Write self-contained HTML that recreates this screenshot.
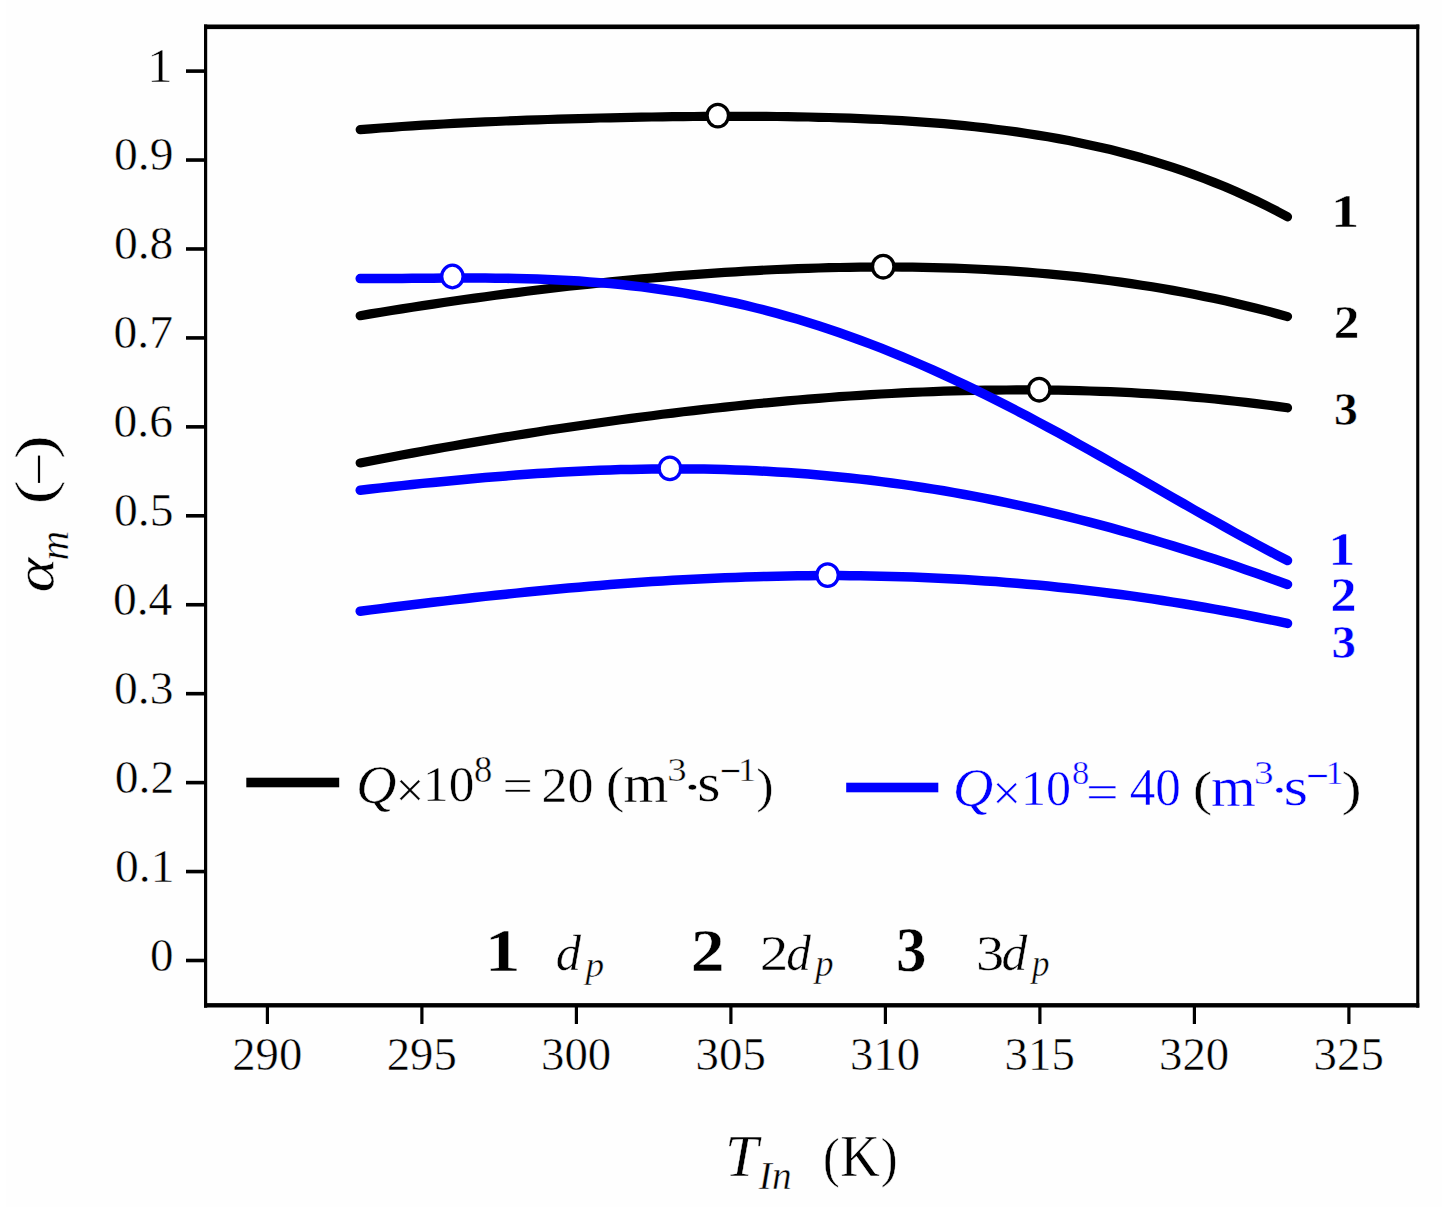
<!DOCTYPE html>
<html><head><meta charset="utf-8"><title>chart</title><style>
html,body{margin:0;padding:0;background:#fefefe;overflow:hidden}
svg{display:block}
text{font-family:"Liberation Serif",serif;stroke:#fefefe;stroke-width:0.45px}
</style></head><body>
<svg width="1442" height="1207" viewBox="0 0 1442 1207">
<rect width="1442" height="1207" fill="#fefefe"/>
<rect width="6" height="1207" fill="#fff"/>
<g fill="#000">
<rect x="204" y="24.5" width="1215.3" height="4.6"/>
<rect x="204" y="1003.1" width="1215.3" height="4.4"/>
<rect x="204" y="24.5" width="3.2" height="983.2"/>
<rect x="1416.2" y="24.5" width="3.1" height="983.2"/>
<rect x="186" y="958.70" width="19" height="3.6"/>
<rect x="186" y="869.76" width="19" height="3.6"/>
<rect x="186" y="780.82" width="19" height="3.6"/>
<rect x="186" y="691.88" width="19" height="3.6"/>
<rect x="186" y="602.94" width="19" height="3.6"/>
<rect x="186" y="514.00" width="19" height="3.6"/>
<rect x="186" y="425.06" width="19" height="3.6"/>
<rect x="186" y="336.12" width="19" height="3.6"/>
<rect x="186" y="247.18" width="19" height="3.6"/>
<rect x="186" y="158.24" width="19" height="3.6"/>
<rect x="186" y="69.30" width="19" height="3.6"/>
<rect x="265.80" y="1005" width="3.2" height="19"/>
<rect x="420.30" y="1005" width="3.2" height="19"/>
<rect x="574.80" y="1005" width="3.2" height="19"/>
<rect x="729.30" y="1005" width="3.2" height="19"/>
<rect x="883.80" y="1005" width="3.2" height="19"/>
<rect x="1038.30" y="1005" width="3.2" height="19"/>
<rect x="1192.80" y="1005" width="3.2" height="19"/>
<rect x="1347.30" y="1005" width="3.2" height="19"/>
</g>
<text transform="translate(147.23 81.70) scale(1.0265 1)" font-size="49.53" fill="#000">1</text>
<text transform="translate(149.89 970.90) scale(1.0000 1)" font-size="47.0" fill="#000">0</text>
<text transform="translate(114.99 881.96) scale(1.0121 1)" font-size="47.0" fill="#000">0.1</text>
<text transform="translate(114.76 793.02) scale(1.0121 1)" font-size="47.0" fill="#000">0.2</text>
<text transform="translate(114.00 704.08) scale(1.0121 1)" font-size="47.0" fill="#000">0.3</text>
<text transform="translate(112.88 615.14) scale(1.0121 1)" font-size="47.0" fill="#000">0.4</text>
<text transform="translate(114.00 526.20) scale(1.0121 1)" font-size="47.0" fill="#000">0.5</text>
<text transform="translate(113.55 437.26) scale(1.0121 1)" font-size="47.0" fill="#000">0.6</text>
<text transform="translate(113.51 348.32) scale(1.0121 1)" font-size="47.0" fill="#000">0.7</text>
<text transform="translate(113.95 259.38) scale(1.0121 1)" font-size="47.0" fill="#000">0.8</text>
<text transform="translate(114.09 170.44) scale(1.0121 1)" font-size="47.0" fill="#000">0.9</text>
<text transform="translate(232.25 1070.3) scale(1.0149 1)" font-size="46.0" fill="#000">290</text>
<text transform="translate(386.75 1070.3) scale(1.0156 1)" font-size="46.0" fill="#000">295</text>
<text transform="translate(541.06 1070.3) scale(1.0177 1)" font-size="46.0" fill="#000">300</text>
<text transform="translate(695.56 1070.3) scale(1.0184 1)" font-size="46.0" fill="#000">305</text>
<text transform="translate(850.06 1070.3) scale(1.0177 1)" font-size="46.0" fill="#000">310</text>
<text transform="translate(1004.56 1070.3) scale(1.0184 1)" font-size="46.0" fill="#000">315</text>
<text transform="translate(1159.06 1070.3) scale(1.0177 1)" font-size="46.0" fill="#000">320</text>
<text transform="translate(1313.56 1070.3) scale(1.0184 1)" font-size="46.0" fill="#000">325</text>
<path d="M360.2 129.7 L370.6 128.8 L381.0 128.0 L391.5 127.3 L401.9 126.5 L412.3 125.9 L422.7 125.2 L433.1 124.6 L443.6 124.0 L454.0 123.4 L464.4 122.9 L474.8 122.4 L485.2 121.9 L495.6 121.5 L506.1 121.0 L516.5 120.6 L526.9 120.2 L537.3 119.9 L547.7 119.5 L558.2 119.2 L568.6 118.9 L579.0 118.6 L589.4 118.3 L599.8 118.0 L610.3 117.8 L620.7 117.6 L631.1 117.4 L641.5 117.2 L651.9 117.0 L662.4 116.8 L672.8 116.7 L683.2 116.6 L693.6 116.5 L704.0 116.4 L714.4 116.4 L724.9 116.3 L735.3 116.3 L745.7 116.3 L756.1 116.4 L766.5 116.4 L777.0 116.5 L787.4 116.7 L797.8 116.8 L808.2 117.0 L818.6 117.3 L829.1 117.5 L839.5 117.8 L849.9 118.2 L860.3 118.6 L870.7 119.1 L881.2 119.5 L891.6 120.1 L902.0 120.7 L912.4 121.4 L922.8 122.1 L933.3 122.9 L943.7 123.7 L954.1 124.7 L964.5 125.7 L974.9 126.8 L985.3 127.9 L995.8 129.2 L1006.2 130.5 L1016.6 131.9 L1027.0 133.5 L1037.4 135.1 L1047.9 136.8 L1058.3 138.6 L1068.7 140.6 L1079.1 142.7 L1089.5 144.9 L1100.0 147.2 L1110.4 149.6 L1120.8 152.2 L1131.2 155.0 L1141.6 157.8 L1152.1 160.9 L1162.5 164.1 L1172.9 167.4 L1183.3 170.9 L1193.7 174.6 L1204.1 178.5 L1214.6 182.6 L1225.0 186.8 L1235.4 191.3 L1245.8 196.0 L1256.2 200.8 L1266.7 205.9 L1277.1 211.2 L1287.5 216.8" fill="none" stroke="#000" stroke-width="9.2" stroke-linecap="round" stroke-linejoin="round"/>
<path d="M360.2 315.7 L370.6 313.9 L381.0 312.2 L391.5 310.5 L401.9 308.9 L412.3 307.2 L422.7 305.6 L433.1 304.1 L443.6 302.5 L454.0 301.0 L464.4 299.5 L474.8 298.1 L485.2 296.7 L495.6 295.3 L506.1 293.9 L516.5 292.6 L526.9 291.3 L537.3 290.0 L547.7 288.7 L558.2 287.5 L568.6 286.3 L579.0 285.2 L589.4 284.1 L599.8 283.0 L610.3 281.9 L620.7 280.9 L631.1 279.9 L641.5 278.9 L651.9 278.0 L662.4 277.1 L672.8 276.2 L683.2 275.4 L693.6 274.6 L704.0 273.8 L714.4 273.1 L724.9 272.4 L735.3 271.8 L745.7 271.1 L756.1 270.6 L766.5 270.0 L777.0 269.5 L787.4 269.1 L797.8 268.7 L808.2 268.3 L818.6 268.0 L829.1 267.7 L839.5 267.5 L849.9 267.3 L860.3 267.2 L870.7 267.1 L881.2 267.0 L891.6 267.0 L902.0 267.1 L912.4 267.2 L922.8 267.3 L933.3 267.6 L943.7 267.8 L954.1 268.2 L964.5 268.5 L974.9 269.0 L985.3 269.5 L995.8 270.1 L1006.2 270.7 L1016.6 271.4 L1027.0 272.1 L1037.4 273.0 L1047.9 273.8 L1058.3 274.8 L1068.7 275.8 L1079.1 276.9 L1089.5 278.1 L1100.0 279.4 L1110.4 280.7 L1120.8 282.1 L1131.2 283.6 L1141.6 285.2 L1152.1 286.8 L1162.5 288.5 L1172.9 290.4 L1183.3 292.3 L1193.7 294.3 L1204.1 296.4 L1214.6 298.6 L1225.0 300.8 L1235.4 303.2 L1245.8 305.7 L1256.2 308.3 L1266.7 310.9 L1277.1 313.7 L1287.5 316.6" fill="none" stroke="#000" stroke-width="9.2" stroke-linecap="round" stroke-linejoin="round"/>
<path d="M360.2 462.9 L370.6 460.9 L381.0 458.9 L391.5 457.0 L401.9 455.0 L412.3 453.1 L422.7 451.2 L433.1 449.4 L443.6 447.5 L454.0 445.7 L464.4 443.9 L474.8 442.1 L485.2 440.4 L495.6 438.6 L506.1 436.9 L516.5 435.3 L526.9 433.6 L537.3 432.0 L547.7 430.3 L558.2 428.8 L568.6 427.2 L579.0 425.7 L589.4 424.2 L599.8 422.7 L610.3 421.2 L620.7 419.8 L631.1 418.4 L641.5 417.0 L651.9 415.7 L662.4 414.3 L672.8 413.1 L683.2 411.8 L693.6 410.6 L704.0 409.4 L714.4 408.2 L724.9 407.1 L735.3 406.0 L745.7 404.9 L756.1 403.8 L766.5 402.8 L777.0 401.8 L787.4 400.9 L797.8 400.0 L808.2 399.1 L818.6 398.3 L829.1 397.5 L839.5 396.7 L849.9 396.0 L860.3 395.3 L870.7 394.7 L881.2 394.0 L891.6 393.5 L902.0 392.9 L912.4 392.4 L922.8 392.0 L933.3 391.6 L943.7 391.2 L954.1 390.9 L964.5 390.6 L974.9 390.4 L985.3 390.2 L995.8 390.1 L1006.2 390.0 L1016.6 389.9 L1027.0 389.9 L1037.4 390.0 L1047.9 390.1 L1058.3 390.2 L1068.7 390.4 L1079.1 390.7 L1089.5 391.0 L1100.0 391.3 L1110.4 391.7 L1120.8 392.2 L1131.2 392.7 L1141.6 393.3 L1152.1 393.9 L1162.5 394.6 L1172.9 395.4 L1183.3 396.2 L1193.7 397.1 L1204.1 398.0 L1214.6 399.0 L1225.0 400.1 L1235.4 401.2 L1245.8 402.4 L1256.2 403.6 L1266.7 405.0 L1277.1 406.4 L1287.5 407.8" fill="none" stroke="#000" stroke-width="9.2" stroke-linecap="round" stroke-linejoin="round"/>
<path d="M360.2 278.6 L370.6 278.6 L381.0 278.5 L391.5 278.5 L401.9 278.4 L412.3 278.3 L422.7 278.2 L433.1 278.2 L443.6 278.1 L454.0 278.0 L464.4 278.0 L474.8 278.0 L485.2 278.1 L495.6 278.2 L506.1 278.3 L516.5 278.5 L526.9 278.8 L537.3 279.1 L547.7 279.5 L558.2 280.0 L568.6 280.5 L579.0 281.1 L589.4 281.9 L599.8 282.7 L610.3 283.6 L620.7 284.6 L631.1 285.7 L641.5 286.9 L651.9 288.2 L662.4 289.7 L672.8 291.2 L683.2 292.9 L693.6 294.7 L704.0 296.6 L714.4 298.6 L724.9 300.8 L735.3 303.0 L745.7 305.4 L756.1 308.0 L766.5 310.6 L777.0 313.4 L787.4 316.3 L797.8 319.3 L808.2 322.5 L818.6 325.8 L829.1 329.2 L839.5 332.8 L849.9 336.4 L860.3 340.2 L870.7 344.1 L881.2 348.2 L891.6 352.3 L902.0 356.6 L912.4 361.0 L922.8 365.5 L933.3 370.1 L943.7 374.8 L954.1 379.7 L964.5 384.6 L974.9 389.6 L985.3 394.7 L995.8 399.9 L1006.2 405.2 L1016.6 410.6 L1027.0 416.0 L1037.4 421.6 L1047.9 427.2 L1058.3 432.8 L1068.7 438.5 L1079.1 444.3 L1089.5 450.1 L1100.0 456.0 L1110.4 461.9 L1120.8 467.8 L1131.2 473.7 L1141.6 479.7 L1152.1 485.7 L1162.5 491.6 L1172.9 497.6 L1183.3 503.5 L1193.7 509.5 L1204.1 515.4 L1214.6 521.2 L1225.0 527.0 L1235.4 532.8 L1245.8 538.5 L1256.2 544.2 L1266.7 549.7 L1277.1 555.2 L1287.5 560.5" fill="none" stroke="#0000ff" stroke-width="9.5" stroke-linecap="round" stroke-linejoin="round"/>
<path d="M360.2 490.2 L370.6 489.0 L381.0 487.9 L391.5 486.7 L401.9 485.6 L412.3 484.5 L422.7 483.4 L433.1 482.4 L443.6 481.4 L454.0 480.4 L464.4 479.4 L474.8 478.5 L485.2 477.6 L495.6 476.7 L506.1 475.9 L516.5 475.1 L526.9 474.3 L537.3 473.6 L547.7 473.0 L558.2 472.3 L568.6 471.8 L579.0 471.2 L589.4 470.8 L599.8 470.3 L610.3 470.0 L620.7 469.6 L631.1 469.4 L641.5 469.2 L651.9 469.0 L662.4 468.9 L672.8 468.9 L683.2 468.9 L693.6 469.0 L704.0 469.1 L714.4 469.3 L724.9 469.6 L735.3 469.9 L745.7 470.3 L756.1 470.8 L766.5 471.3 L777.0 471.9 L787.4 472.6 L797.8 473.3 L808.2 474.1 L818.6 475.0 L829.1 475.9 L839.5 476.9 L849.9 478.0 L860.3 479.1 L870.7 480.3 L881.2 481.6 L891.6 483.0 L902.0 484.4 L912.4 485.9 L922.8 487.5 L933.3 489.1 L943.7 490.8 L954.1 492.6 L964.5 494.5 L974.9 496.4 L985.3 498.4 L995.8 500.5 L1006.2 502.6 L1016.6 504.8 L1027.0 507.1 L1037.4 509.4 L1047.9 511.8 L1058.3 514.3 L1068.7 516.9 L1079.1 519.5 L1089.5 522.1 L1100.0 524.9 L1110.4 527.7 L1120.8 530.6 L1131.2 533.5 L1141.6 536.5 L1152.1 539.6 L1162.5 542.7 L1172.9 545.9 L1183.3 549.1 L1193.7 552.4 L1204.1 555.7 L1214.6 559.1 L1225.0 562.6 L1235.4 566.1 L1245.8 569.7 L1256.2 573.3 L1266.7 577.0 L1277.1 580.7 L1287.5 584.4" fill="none" stroke="#0000ff" stroke-width="9.5" stroke-linecap="round" stroke-linejoin="round"/>
<path d="M360.2 611.2 L370.6 609.9 L381.0 608.6 L391.5 607.3 L401.9 606.0 L412.3 604.7 L422.7 603.5 L433.1 602.3 L443.6 601.1 L454.0 599.9 L464.4 598.7 L474.8 597.5 L485.2 596.4 L495.6 595.3 L506.1 594.2 L516.5 593.1 L526.9 592.0 L537.3 591.0 L547.7 590.0 L558.2 589.0 L568.6 588.1 L579.0 587.2 L589.4 586.3 L599.8 585.4 L610.3 584.6 L620.7 583.8 L631.1 583.0 L641.5 582.3 L651.9 581.6 L662.4 581.0 L672.8 580.3 L683.2 579.7 L693.6 579.2 L704.0 578.7 L714.4 578.2 L724.9 577.8 L735.3 577.4 L745.7 577.0 L756.1 576.7 L766.5 576.4 L777.0 576.2 L787.4 576.0 L797.8 575.8 L808.2 575.7 L818.6 575.6 L829.1 575.6 L839.5 575.6 L849.9 575.7 L860.3 575.8 L870.7 576.0 L881.2 576.2 L891.6 576.4 L902.0 576.7 L912.4 577.1 L922.8 577.5 L933.3 577.9 L943.7 578.4 L954.1 579.0 L964.5 579.6 L974.9 580.2 L985.3 580.9 L995.8 581.6 L1006.2 582.4 L1016.6 583.3 L1027.0 584.2 L1037.4 585.1 L1047.9 586.1 L1058.3 587.2 L1068.7 588.3 L1079.1 589.4 L1089.5 590.6 L1100.0 591.9 L1110.4 593.2 L1120.8 594.5 L1131.2 595.9 L1141.6 597.4 L1152.1 598.9 L1162.5 600.5 L1172.9 602.1 L1183.3 603.8 L1193.7 605.5 L1204.1 607.3 L1214.6 609.1 L1225.0 611.0 L1235.4 612.9 L1245.8 614.9 L1256.2 617.0 L1266.7 619.1 L1277.1 621.2 L1287.5 623.4" fill="none" stroke="#0000ff" stroke-width="9.5" stroke-linecap="round" stroke-linejoin="round"/>
<ellipse cx="717.8" cy="115.6" rx="10.7" ry="11.3" fill="#fff" stroke="#000" stroke-width="3.3"/>
<ellipse cx="883.2" cy="266.7" rx="10.7" ry="11.3" fill="#fff" stroke="#000" stroke-width="3.3"/>
<ellipse cx="1039.2" cy="389.7" rx="10.7" ry="11.3" fill="#fff" stroke="#000" stroke-width="3.3"/>
<ellipse cx="452.4" cy="276.5" rx="10.7" ry="11.3" fill="#fff" stroke="#0000ff" stroke-width="3.3"/>
<ellipse cx="669.9" cy="468.4" rx="10.7" ry="11.3" fill="#fff" stroke="#0000ff" stroke-width="3.3"/>
<ellipse cx="827.6" cy="575.1" rx="10.7" ry="11.3" fill="#fff" stroke="#0000ff" stroke-width="3.3"/>
<text transform="translate(1330.98 227.10) scale(1.1954 1)" font-size="47.26" font-weight="bold" fill="#000">1</text>
<text transform="translate(1333.74 338.10) scale(1.0891 1)" font-size="47.12" font-weight="bold" fill="#000">2</text>
<text transform="translate(1334.11 425.45) scale(1.0325 1)" font-size="46.14" font-weight="bold" fill="#000">3</text>
<text transform="translate(1328.39 565.10) scale(1.1416 1)" font-size="47.11" font-weight="bold" fill="#0000ff">1</text>
<text transform="translate(1330.51 610.60) scale(1.0802 1)" font-size="48.18" font-weight="bold" fill="#0000ff">2</text>
<text transform="translate(1331.56 657.85) scale(1.0544 1)" font-size="46.29" font-weight="bold" fill="#0000ff">3</text>
<text transform="translate(484.66 970.70) scale(1.1574 1)" font-size="61.96" font-weight="bold" fill="#000">1</text>
<text transform="translate(555.87 970.17) scale(0.9845 1)" font-size="51.41" font-style="italic" fill="#000">d</text>
<text transform="translate(585.58 976.84) scale(1.0369 1)" font-size="35.96" font-style="italic" fill="#000">p</text>
<text transform="translate(690.76 970.70) scale(1.0960 1)" font-size="61.77" font-weight="bold" fill="#000">2</text>
<text transform="translate(759.69 970.40) scale(1.1059 1)" font-size="51.65" fill="#000">2</text>
<text transform="translate(786.21 969.88) scale(0.9651 1)" font-size="51.13" font-style="italic" fill="#000">d</text>
<text transform="translate(815.35 976.36) scale(0.9851 1)" font-size="37.28" font-style="italic" fill="#000">p</text>
<text transform="translate(895.92 971.48) scale(0.9576 1)" font-size="63.40" font-weight="bold" fill="#000">3</text>
<text transform="translate(975.90 969.90) scale(1.1081 1)" font-size="50.90" fill="#000">3</text>
<text transform="translate(1001.44 969.88) scale(1.0107 1)" font-size="51.13" font-style="italic" fill="#000">d</text>
<text transform="translate(1032.05 976.36) scale(0.9394 1)" font-size="37.28" font-style="italic" fill="#000">p</text>
<rect x="246.3" y="777.7" width="92.9" height="9.6" fill="#000"/>
<rect x="846.2" y="782.7" width="92.1" height="9.6" fill="#0000ff"/>
<text transform="translate(355.90 802.59) scale(1.0328 1)" font-size="54.35" font-style="italic" fill="#000">Q</text>
<text transform="translate(395.45 806.65) scale(0.9917 1)" font-size="51.57" fill="#000">×</text>
<text transform="translate(423.09 801.11) scale(1.0203 1)" font-size="50.24" fill="#000">10</text>
<text transform="translate(474.11 781.84) scale(0.9911 1)" font-size="36.90" fill="#000">8</text>
<text transform="translate(502.52 801.04) scale(1.1782 1)" font-size="45.60" fill="#000">=</text>
<text transform="translate(541.41 801.50) scale(1.0244 1)" font-size="50.83" fill="#000">20</text>
<text transform="translate(605.72 801.65) scale(1.1177 1)" font-size="50.51" fill="#000">(</text>
<text transform="translate(623.59 802.00) scale(1.0440 1)" font-size="55.18" fill="#000">m</text>
<text transform="translate(667.13 780.87) scale(1.1435 1)" font-size="34.08" fill="#000">3</text>
<text transform="translate(680.18 803.49) scale(1.5357 1)" font-size="47.39" fill="#000">·</text>
<text transform="translate(697.24 801.47) scale(1.1087 1)" font-size="54.06" fill="#000">s</text>
<text transform="translate(719.72 786.80) scale(0.7849 1)" font-size="48.19" fill="#000">−</text>
<text transform="translate(738.18 781.20) scale(1.0236 1)" font-size="34.69" fill="#000">1</text>
<text transform="translate(756.31 801.91) scale(1.0662 1)" font-size="49.30" fill="#000">)</text>
<text transform="translate(952.80 805.71) scale(1.0351 1)" font-size="54.23" font-style="italic" fill="#0000ff">Q</text>
<text transform="translate(992.35 809.65) scale(0.9917 1)" font-size="51.57" fill="#0000ff">×</text>
<text transform="translate(1021.11 804.60) scale(0.9837 1)" font-size="50.83" fill="#0000ff">10</text>
<text transform="translate(1072.09 783.97) scale(1.0151 1)" font-size="33.94" fill="#0000ff">8</text>
<text transform="translate(1086.11 809.25) scale(1.1605 1)" font-size="50.00" fill="#0000ff">=</text>
<text transform="translate(1129.80 805.29) scale(0.9861 1)" font-size="51.87" fill="#0000ff">40</text>
<text transform="translate(1192.73 805.01) scale(1.1847 1)" font-size="49.30" fill="#000">(</text>
<text transform="translate(1211.09 805.80) scale(1.0129 1)" font-size="56.88" fill="#0000ff">m</text>
<text transform="translate(1254.12 783.97) scale(1.1506 1)" font-size="34.08" fill="#0000ff">3</text>
<text transform="translate(1269.25 806.49) scale(1.2857 1)" font-size="47.39" fill="#0000ff">·</text>
<text transform="translate(1283.60 805.26) scale(1.1388 1)" font-size="55.72" fill="#0000ff">s</text>
<text transform="translate(1305.99 792.00) scale(0.8384 1)" font-size="48.19" fill="#0000ff">−</text>
<text transform="translate(1325.68 784.30) scale(1.0752 1)" font-size="33.02" fill="#0000ff">1</text>
<text transform="translate(1341.44 805.01) scale(1.2321 1)" font-size="49.30" fill="#000">)</text>
<text transform="translate(725.10 1176.40) scale(1.0042 1)" font-size="59.41" font-style="italic" fill="#000">T</text>
<text transform="translate(758.85 1189.30) scale(0.9948 1)" font-size="39.55" font-style="italic" fill="#000">In</text>
<text transform="translate(822.89 1175.99) scale(0.9054 1)" font-size="55.47" fill="#000">(</text>
<text transform="translate(840.32 1176.40) scale(0.9385 1)" font-size="58.34" fill="#000">K</text>
<text transform="translate(880.67 1175.99) scale(0.9124 1)" font-size="55.47" fill="#000">)</text>
<g transform="rotate(-90)">
<text transform="translate(-592.47 53.24) scale(1.2048 1)" font-size="54.99" font-style="italic" fill="#000">α</text>
<text transform="translate(-560.48 68.20) scale(0.9562 1)" font-size="42.87" font-style="italic" fill="#000">m</text>
<text transform="translate(-504.52 52.86) scale(1.3274 1)" font-size="55.14" fill="#000">(</text>
<text transform="translate(-459.36 52.86) scale(1.3274 1)" font-size="55.14" fill="#000">)</text>
</g>
<rect x="37.9" y="455.6" width="2.2" height="27.3" fill="#000"/>
</svg>
</body></html>
